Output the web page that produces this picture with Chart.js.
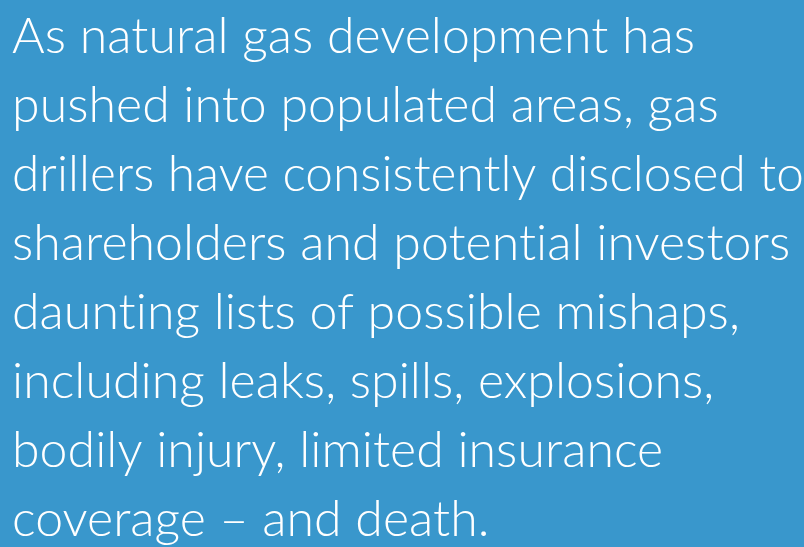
<!DOCTYPE html>
<html>
<head>
<meta charset="utf-8">
<script src="https://cdn.jsdelivr.net/npm/chart.js@4"></script>
<style>
  html, body { margin: 0; padding: 0; background: #3997cc; }
  #wrap { width: 804px; height: 547px; }
</style>
</head>
<body>
<div id="wrap"><canvas id="myChart"></canvas></div>
<script>
// quote text, one entry per line as in the picture
const lines = [
    'As natural gas development has',
    'pushed into populated areas, gas',
    'drillers have consistently disclosed to',
    'shareholders and potential investors',
    'daunting lists of possible mishaps,',
    'including leaks, spills, explosions,',
    'bodily injury, limited insurance',
    'coverage \u2013 and death.'
];

// tiny letter spacing so Lato's "ti" ligature is not used
const noLigatures = {
    id: 'noLigatures',
    beforeDraw(chart) {
        chart.ctx.letterSpacing = '0.05px';
    }
};

function plotChart() {
    const ctx = document.getElementById('myChart');

    new Chart(ctx, {
    type: 'bar',
    data: {
        labels: [],
        datasets: []
    },
    options: {
        responsive: true,
        maintainAspectRatio: false,
        animation: false,
        layout: { padding: { left: 12, top: 0 } },
        scales: {
        x: { display: false },
        y: { display: false }
        },
        plugins: {
        legend: { display: false },
        tooltip: { enabled: false },
        title: {
            display: true,
            text: lines,
            align: 'start',
            color: '#ffffff',
            padding: { top: 2, bottom: 0 },
            font: { family: 'Lato', weight: '300', size: 50, lineHeight: 1.38 }
        }
        }
    },
    plugins: [noLigatures]
    });
}

plotChart();
</script>
</body>
</html>
